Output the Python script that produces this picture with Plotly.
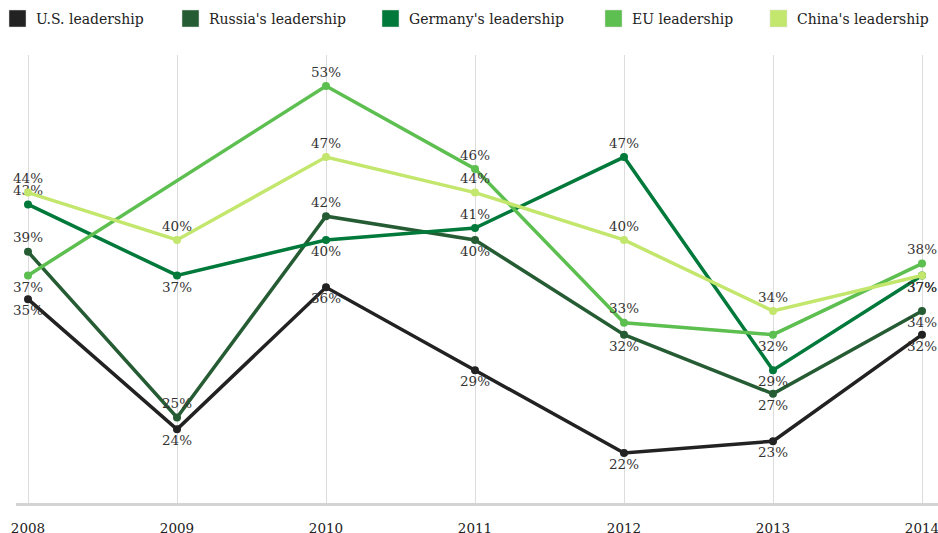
import plotly.graph_objects as go

years = [2008, 2009, 2010, 2011, 2012, 2013, 2014]
series_names = ["U.S. leadership", "Russia's leadership", "Germany's leadership", "EU leadership", "China's leadership"]
us = [35, 24, 36, 29, 22, 23, 32]
russia = [39, 25, 42, 40, 32, 27, 34]
germany = [43, 37, 40, 41, 47, 29, 37]
eu = [37, None, 53, 46, 33, 32, 38]
china = [44, 40, 47, 44, 40, 34, 37]

colors = ["#222222", "#265c34", "#00793a", "#5cbf4f", "#c3e66c"]
T, B = "top center", "bottom center"
positions = [
    [B, B, B, B, B, B, B],
    [T, T, T, B, B, B, B],
    [T, B, B, T, T, B, B],
    [B, T, T, T, T, B, T],
    [T, T, T, T, T, T, B],
]
values = [us, russia, germany, eu, china]

FONT = "Georgia, 'DejaVu Serif', serif"
L, R, TOP, BOT = 16, 0, 55, 30
W, H = 938, 533
PW, PH = W - L - R, H - TOP - BOT

fig = go.Figure()
for name, vals, col, pos in zip(series_names, values, colors, positions):
    fig.add_trace(go.Scatter(
        x=years, y=vals, name=name, mode="lines+markers+text",
        connectgaps=True,
        line=dict(color=col, width=3.5),
        marker=dict(color=col, size=8),
        text=[f"{v}%" if v is not None else "" for v in vals],
        textposition=pos,
        textfont=dict(family=FONT, size=13.5, color="#333333"),
        cliponaxis=False,
        showlegend=False,
        hoverinfo="skip",
    ))

# legend drawn manually (square swatch + label)
leg_x = [9, 182, 382, 605, 770]
for name, col, lx in zip(series_names, colors, leg_x):
    fig.add_shape(type="rect", xref="paper", yref="paper",
                  x0=(lx - L) / PW, x1=(lx + 17 - L) / PW,
                  y0=1 + (TOP - 27) / PH, y1=1 + (TOP - 10) / PH,
                  fillcolor=col, line=dict(color="#dddddd", width=0.5))
    fig.add_annotation(
        xref="paper", yref="paper", x=(lx + 25 - L) / PW, y=1 + (TOP - 18.5) / PH,
        text=name, showarrow=False, xanchor="left", yanchor="middle",
        font=dict(family=FONT, size=14, color="#222222"))

fig.update_layout(
    width=W, height=H,
    margin=dict(l=L, r=R, t=TOP, b=BOT, autoexpand=False),
    paper_bgcolor="white", plot_bgcolor="white",
    xaxis=dict(range=[2008 - 12 / 149, 2014 + 16 / 149], tickvals=years,
               ticktext=[str(y) for y in years],
               showgrid=True, gridcolor="#dcdcdc", gridwidth=1,
               zeroline=False, showline=True, linecolor="#d4d4d4", linewidth=3,
               ticks="", ticklabelstandoff=11, ticklabeloverflow="allow",
               tickfont=dict(family=FONT, size=13.5, color="#222222")),
    yaxis=dict(range=[17.78, 55.62], showgrid=False, zeroline=False,
               showticklabels=False, showline=False),
    showlegend=False,
)
fig.write_html("out.html", config={"displayModeBar": False},
               post_script="document.body.style.margin='0';")
